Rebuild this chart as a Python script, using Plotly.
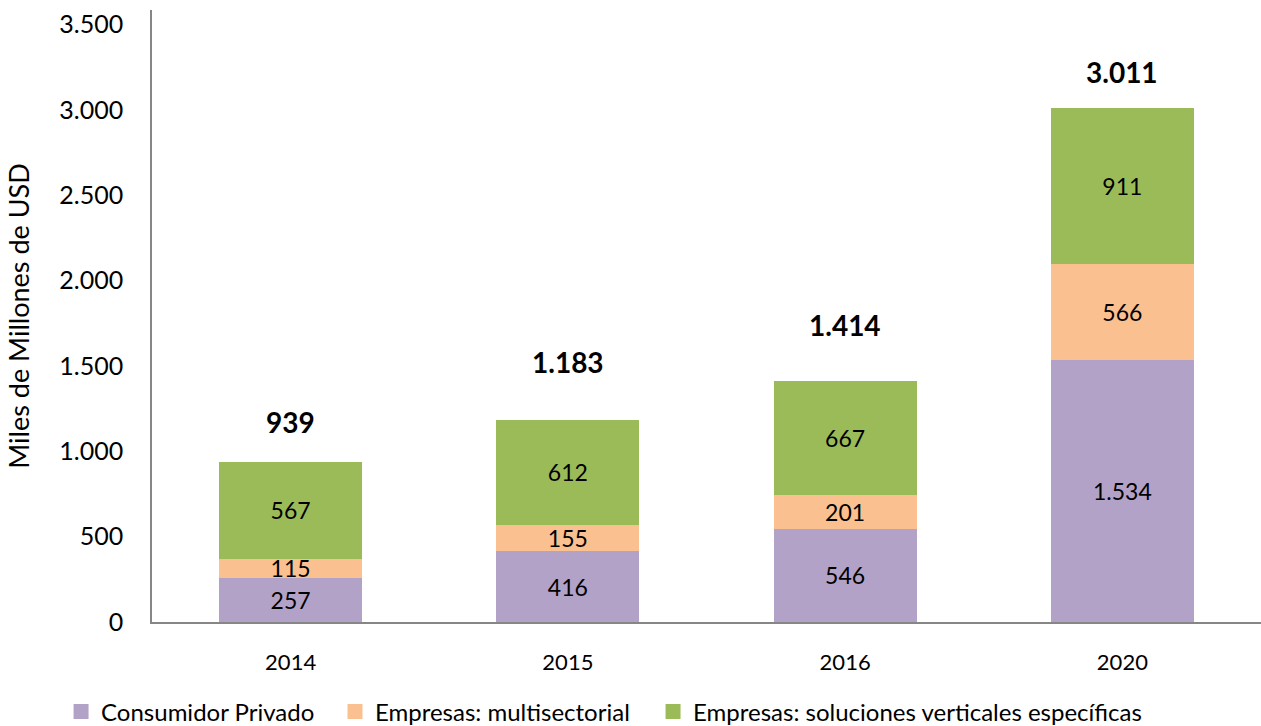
import plotly.graph_objects as go

years = ["2014", "2015", "2016", "2020"]
consumidor = [257, 416, 546, 1534]
multisectorial = [115, 155, 201, 566]
verticales = [567, 612, 667, 911]
totales = [939, 1183, 1414, 3011]
total_label_shift = [40, 58, 56, 36]

FONT = "Lato"
series = [
    ("Consumidor Privado", consumidor, "#B3A2C7"),
    ("Empresas: multisectorial", multisectorial, "#FAC090"),
    ("Empresas: soluciones verticales específicas", verticales, "#9BBB59"),
]
legend_ids = ["legend", "legend2", "legend3"]
legend_x = [-0.082, 0.165, 0.4518]

fig = go.Figure()
for name, vals, col in series:
    fig.add_trace(go.Bar(
        x=years, y=vals, name=name, marker=dict(color=col, line=dict(width=0)),
        texttemplate="%{y:,}", textposition="inside", insidetextanchor="middle",
        textfont=dict(family=FONT, size=23, color="black"), textangle=0,
        constraintext="none", showlegend=False,
    ))

# legend entries (square swatches)
for (name, vals, col), lid in zip(series, legend_ids):
    fig.add_trace(go.Scatter(
        x=[None], y=[None], mode="markers", name=name, legend=lid,
        marker=dict(symbol="square", size=15, color=col), showlegend=True,
    ))

for i, (tot, sh) in enumerate(zip(totales, total_label_shift)):
    fig.add_annotation(x=i, y=tot, text=f"<b>{tot:,}</b>".replace(",", "."),
                       showarrow=False, yshift=sh, yanchor="middle",
                       font=dict(family=FONT, size=28, color="black"))

leg_common = dict(orientation="h", yref="container", y=0.0193, yanchor="middle",
                  xanchor="left", font=dict(family=FONT, size=24), bgcolor="rgba(0,0,0,0)")
fig.update_layout(
    barmode="stack", bargap=0.485, separators=",.",
    width=1261, height=726, plot_bgcolor="white", paper_bgcolor="white",
    margin=dict(l=152, r=0, t=10, b=104),
    font=dict(family=FONT, color="black"),
    legend=dict(x=legend_x[0], **leg_common),
    legend2=dict(x=legend_x[1], **leg_common),
    legend3=dict(x=legend_x[2], **leg_common),
    uniformtext=dict(mode=False),
)
fig.update_yaxes(range=[0, 3586], tickvals=[0, 500, 1000, 1500, 2000, 2500, 3000, 3500],
                 tickformat=",d", showgrid=False, showline=True, linecolor="#868686",
                 linewidth=1.5, ticks="", tickfont=dict(family=FONT, size=25),
                 ticklabelstandoff=22, automargin=False,
                 title=dict(text="Miles de Millones de USD", font=dict(family=FONT, size=27), standoff=22),
                 zeroline=False)
fig.update_xaxes(type="category", range=[-0.5, 3.5], showline=True, linecolor="#868686",
                 linewidth=1.5, ticks="", tickfont=dict(family=FONT, size=22),
                 ticklabelstandoff=20, automargin=False, showgrid=False)

fig.write_html("out.html", config={"displayModeBar": False},
               post_script="document.body.style.margin='0';document.body.style.overflow='hidden';")
